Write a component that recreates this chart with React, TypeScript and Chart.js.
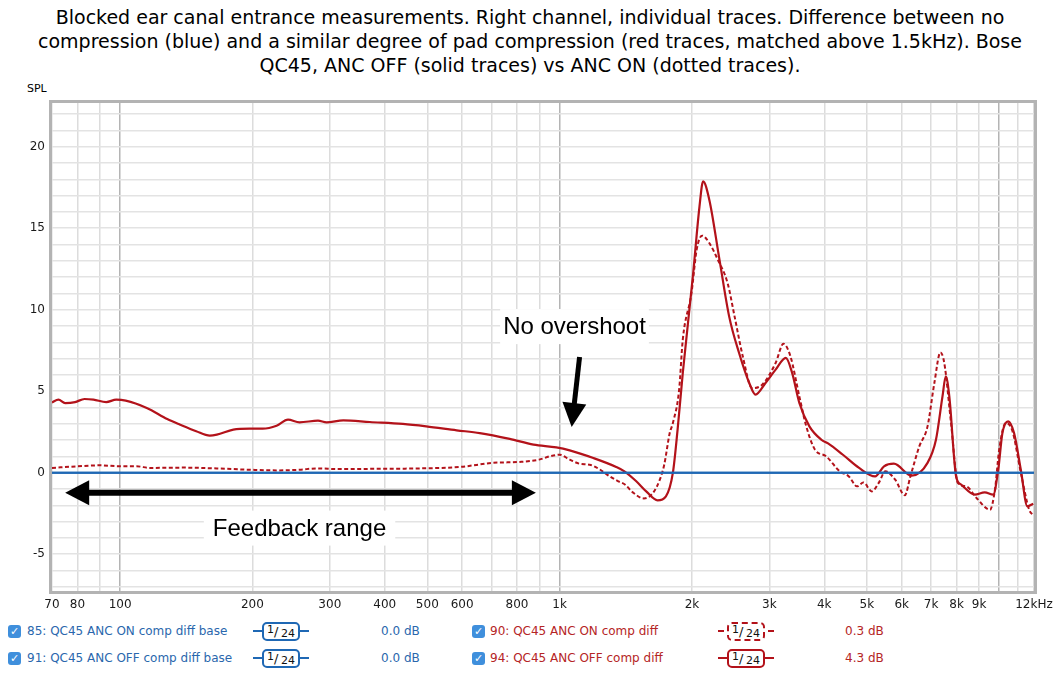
import React, { useEffect, useRef } from 'react';
import { Chart, registerables } from 'chart.js';

Chart.register(...registerables);

// ---------- data ----------
const TITLE_LINES = [
  'Blocked ear canal entrance measurements. Right channel, individual traces. Difference between no',
  'compression (blue) and a similar degree of pad compression (red traces, matched above 1.5kHz). Bose',
  'QC45, ANC OFF (solid traces) vs ANC ON (dotted traces).',
];

const BASE_FREQ = [70, 12000];
const BASE_DB = [0, 0];

const FREQ_OFF = [70, 72.4, 75, 79, 83, 87, 93, 98, 103, 115, 128, 137, 149, 160, 166, 181, 197, 211, 227, 241, 256, 282, 295, 322, 370, 440, 497, 583, 658, 770, 872, 983, 1054, 1193, 1345, 1404, 1494, 1574, 1670, 1745, 1810, 1855, 1906, 2013, 2080, 2120, 2190, 2310, 2430, 2560, 2700, 2790, 2940, 3100, 3270, 3380, 3510, 3700, 3940, 4080, 4410, 4800, 5220, 5470, 5760, 6320, 6870, 7180, 7430, 7560, 7700, 7980, 8200, 8800, 9270, 9690, 9950, 10170, 10480, 10810, 11200, 11590, 11950];
const DB_OFF = [4.31, 4.48, 4.27, 4.33, 4.52, 4.48, 4.33, 4.48, 4.42, 3.97, 3.29, 2.94, 2.54, 2.27, 2.33, 2.64, 2.7, 2.7, 2.88, 3.25, 3.09, 3.19, 3.09, 3.21, 3.11, 2.99, 2.84, 2.6, 2.43, 2.07, 1.72, 1.55, 1.37, 0.9, 0.35, 0.08, -0.53, -1.15, -1.7, -1.45, 0.0, 2.64, 6.1, 12.25, 16.3, 17.87, 16.75, 13.07, 9.59, 7.34, 5.5, 4.79, 5.5, 6.32, 7.04, 6.12, 4.28, 2.84, 2.02, 1.8, 1.1, 0.29, -0.23, 0.39, 0.55, -0.18, 0.6, 2.02, 4.68, 5.91, 4.68, -0.23, -0.74, -1.35, -1.21, -1.35, 0.18, 2.43, 3.15, 2.43, 0.18, -2.07, -1.9];

const FREQ_ON = [70, 80, 90, 100, 109, 117, 139, 166, 197, 227, 256, 280, 316, 390, 480, 593, 705, 811, 898, 949, 1000, 1054, 1110, 1170, 1230, 1300, 1360, 1410, 1467, 1555, 1630, 1690, 1730, 1780, 1810, 1870, 1906, 1995, 2050, 2110, 2190, 2290, 2410, 2500, 2610, 2740, 2890, 3100, 3230, 3350, 3510, 3640, 3810, 4040, 4330, 4550, 4750, 4910, 5130, 5320, 5510, 5800, 6100, 6280, 6580, 6870, 7120, 7350, 7500, 7770, 8050, 8410, 8880, 9530, 9780, 10000, 10350, 10720, 11200, 11700, 11950];
const DB_ON = [0.29, 0.39, 0.45, 0.39, 0.39, 0.29, 0.31, 0.26, 0.18, 0.14, 0.18, 0.26, 0.22, 0.24, 0.26, 0.35, 0.6, 0.66, 0.8, 1.0, 1.1, 0.8, 0.55, 0.49, 0.22, -0.23, -0.53, -0.74, -1.21, -1.58, -1.25, -0.43, 0.5, 2.43, 3.05, 5.09, 8.16, 11.02, 13.68, 14.54, 14.09, 13.07, 11.64, 9.59, 7.14, 5.19, 5.4, 6.73, 7.91, 7.14, 4.68, 2.84, 1.41, 1.0, 0.1, -0.23, -0.84, -0.6, -1.15, -0.63, 0.08, -0.43, -1.39, -0.23, 1.61, 2.84, 5.5, 7.38, 6.73, 3.05, -0.63, -0.84, -1.55, -2.27, -1.04, 1.41, 3.05, 2.54, 0.0, -2.27, -2.6];

const X_MIN = 70;
const X_MAX = 12000;
const X_GRID = [70, 80, 90, 100, 200, 300, 400, 500, 600, 700, 800, 900, 1000, 2000, 3000, 4000, 5000, 6000, 7000, 8000, 9000, 10000, 11000, 12000];
const X_MAJOR = [100, 1000, 10000];
const X_LABEL_VALUES = [70, 80, 100, 200, 300, 400, 500, 600, 800, 1000, 2000, 3000, 4000, 5000, 6000, 7000, 8000, 9000, 12000];
const X_LABEL_TEXT = ['70', '80', '100', '200', '300', '400', '500', '600', '800', '1k', '2k', '3k', '4k', '5k', '6k', '7k', '8k', '9k', '12kHz'];

const Y_MIN = -7.26;
const Y_MAX = 22.68;
const Y_GRID = [-7, -6, -5, -4, -3, -2, -1, 0, 1, 2, 3, 4, 5, 6, 7, 8, 9, 10, 11, 12, 13, 14, 15, 16, 17, 18, 19, 20, 21, 22];
const Y_LABEL_VALUES = [-5, 0, 5, 10, 15, 20];
const Y_AXIS_TITLE = 'SPL';

const LEGEND_LABELS = ['85: QC45 ANC ON comp diff base', '91: QC45 ANC OFF comp diff base', '90: QC45 ANC ON comp diff', '94: QC45 ANC OFF comp diff'];
const LEGEND_OFFSETS = ['0.0 dB', '0.0 dB', '0.3 dB', '4.3 dB'];
const LEGEND_SMOOTHING = ['24', '24', '24', '24'];

// annotations in data coordinates (Hz, dB)
const FEEDBACK_ARROW_FREQ = [75, 883];
const FEEDBACK_ARROW_DB = -1.23;
const FEEDBACK_LABEL = 'Feedback range';
const FEEDBACK_LABEL_AT = [256, -3.4];
const OVERSHOOT_LABEL = 'No overshoot';
const OVERSHOOT_LABEL_AT = [1081, 8.96];
const OVERSHOOT_ARROW_FROM = [1110, 7.1];
const OVERSHOOT_ARROW_TO = [1065, 2.8];

// ---------- styles ----------
const BLUE = '#1f68b4';
const RED = '#b3121a';
const BLUE_TEXT = '#2a67ad';
const RED_TEXT = '#b52525';
const UI_FONT = '"DejaVu Sans", Verdana, sans-serif';
const ANNOT_FONT = '"Liberation Sans", Arial, sans-serif';

const toPoints = (xs: number[], ys: number[]) => xs.map((x, i) => ({ x, y: ys[i] }));

function drawHead(ctx: CanvasRenderingContext2D, tipX: number, tipY: number, ang: number, len: number, half: number) {
  const bx = tipX - Math.cos(ang) * len;
  const by = tipY - Math.sin(ang) * len;
  const px = -Math.sin(ang) * half;
  const py = Math.cos(ang) * half;
  ctx.beginPath();
  ctx.moveTo(tipX, tipY);
  ctx.lineTo(bx + px, by + py);
  ctx.lineTo(bx - px, by - py);
  ctx.closePath();
  ctx.fill();
}

function drawArrow(ctx: CanvasRenderingContext2D, x1: number, y1: number, x2: number, y2: number, both: boolean, len: number, half: number, shaft: number) {
  const ang = Math.atan2(y2 - y1, x2 - x1);
  const sx = both ? x1 + Math.cos(ang) * (len - 2) : x1;
  const sy = both ? y1 + Math.sin(ang) * (len - 2) : y1;
  const ex = x2 - Math.cos(ang) * (len - 2);
  const ey = y2 - Math.sin(ang) * (len - 2);
  ctx.save();
  ctx.strokeStyle = '#000';
  ctx.fillStyle = '#000';
  ctx.lineWidth = shaft;
  ctx.lineCap = 'butt';
  ctx.beginPath();
  ctx.moveTo(sx, sy);
  ctx.lineTo(ex, ey);
  ctx.stroke();
  drawHead(ctx, x2, y2, ang, len, half);
  if (both) drawHead(ctx, x1, y1, ang + Math.PI, len, half);
  ctx.restore();
}

function drawLabel(ctx: CanvasRenderingContext2D, text: string, cx: number, cy: number, padX: number, h: number) {
  ctx.save();
  ctx.font = `24px ${ANNOT_FONT}`;
  const w = ctx.measureText(text).width;
  ctx.fillStyle = '#fff';
  ctx.fillRect(cx - w / 2 - padX, cy - h / 2, w + padX * 2, h);
  ctx.fillStyle = '#000';
  ctx.textAlign = 'center';
  ctx.textBaseline = 'middle';
  ctx.fillText(text, cx, cy + 1);
  ctx.restore();
}

const annotationPlugin = {
  id: 'annotations',
  afterDatasetsDraw(chart: any) {
    const { ctx, scales, chartArea } = chart;
    const xs = scales.x;
    const ys = scales.y;
    // frame
    ctx.save();
    ctx.strokeStyle = '#b3b3b3';
    ctx.lineWidth = 3;
    ctx.strokeRect(chartArea.left - 1.5, chartArea.top - 1.5, chartArea.right - chartArea.left + 3, chartArea.bottom - chartArea.top + 3);
    ctx.restore();

    const ay = ys.getPixelForValue(FEEDBACK_ARROW_DB);
    drawArrow(ctx, xs.getPixelForValue(FEEDBACK_ARROW_FREQ[0]), ay, xs.getPixelForValue(FEEDBACK_ARROW_FREQ[1]), ay, true, 24, 12.5, 6);
    drawLabel(ctx, FEEDBACK_LABEL, xs.getPixelForValue(FEEDBACK_LABEL_AT[0]), ys.getPixelForValue(FEEDBACK_LABEL_AT[1]), 9, 35);
    drawLabel(ctx, OVERSHOOT_LABEL, xs.getPixelForValue(OVERSHOOT_LABEL_AT[0]), ys.getPixelForValue(OVERSHOOT_LABEL_AT[1]), 3, 35);
    drawArrow(
      ctx,
      xs.getPixelForValue(OVERSHOOT_ARROW_FROM[0]), ys.getPixelForValue(OVERSHOOT_ARROW_FROM[1]),
      xs.getPixelForValue(OVERSHOOT_ARROW_TO[0]), ys.getPixelForValue(OVERSHOOT_ARROW_TO[1]),
      false, 24, 12, 5,
    );
  },
};

function CheckBox() {
  return (
    <span style={{
      position: 'absolute', left: 0, top: 0, width: 13, height: 13, borderRadius: 3,
      background: '#3f8fdc', color: '#fff', fontSize: 11, lineHeight: '13px', textAlign: 'center',
      fontFamily: UI_FONT, fontWeight: 'bold',
    }}>✓</span>
  );
}

function SmoothBox({ color, dashed, denom }: { color: string; dashed: boolean; denom: string }) {
  const style = dashed ? 'dashed' : 'solid';
  return (
    <div style={{ position: 'absolute', left: 0, top: 0, width: 56, height: 19 }}>
      <div style={{ position: 'absolute', left: 0, right: 0, top: 8, height: 0, borderTop: `2px ${style} ${color}` }} />
      <div style={{
        position: 'absolute', left: 9, top: 0, width: 34, height: 15, border: `2px ${style} ${color}`,
        borderRadius: 5, background: '#fff', fontFamily: UI_FONT, color: '#111', fontSize: 11,
      }}>
        <span style={{ position: 'absolute', left: 3, top: -1 }}>1</span>
        <span style={{ position: 'absolute', left: 10, top: 0, fontSize: 13 }}>/</span>
        <span style={{ position: 'absolute', left: 17, top: 3 }}>{denom}</span>
      </div>
    </div>
  );
}

function Legend() {
  const cols = [
    { check: 8, text: 27, box: 253, offset: 381 },
    { check: 472, text: 490, box: 718, offset: 845 },
  ];
  const rows = [624, 651];
  const items = LEGEND_LABELS.map((label, i) => {
    const col = cols[i < 2 ? 0 : 1];
    const row = rows[i % 2];
    const isRed = i >= 2;
    const textColor = isRed ? RED_TEXT : BLUE_TEXT;
    const lineColor = isRed ? RED : BLUE;
    const dashed = i === 2;
    return (
      <React.Fragment key={label}>
        <div style={{ position: 'absolute', left: col.check, top: row + 1 }}><CheckBox /></div>
        <div style={{ position: 'absolute', left: col.text, top: row, fontFamily: UI_FONT, fontSize: 12, color: textColor, whiteSpace: 'nowrap', lineHeight: '15px' }}>{label}</div>
        <div style={{ position: 'absolute', left: col.box, top: row - 2 }}><SmoothBox color={lineColor} dashed={dashed} denom={LEGEND_SMOOTHING[i]} /></div>
        <div style={{ position: 'absolute', left: col.offset, top: row, fontFamily: UI_FONT, fontSize: 12, color: textColor, whiteSpace: 'nowrap', lineHeight: '15px' }}>{LEGEND_OFFSETS[i]}</div>
      </React.Fragment>
    );
  });
  return <>{items}</>;
}

export default function App() {
  const canvasRef = useRef<HTMLCanvasElement | null>(null);

  useEffect(() => {
    if (!canvasRef.current) return;
    const chart = new Chart(canvasRef.current, {
      type: 'line',
      data: {
        datasets: [
          { label: LEGEND_LABELS[0], data: toPoints(BASE_FREQ, BASE_DB), borderColor: BLUE, borderWidth: 2, pointRadius: 0 },
          { label: LEGEND_LABELS[1], data: toPoints(BASE_FREQ, BASE_DB), borderColor: BLUE, borderWidth: 2, pointRadius: 0 },
          { label: LEGEND_LABELS[2], data: toPoints(FREQ_ON, DB_ON), borderColor: RED, borderWidth: 2, borderDash: [4, 2.5], pointRadius: 0, cubicInterpolationMode: 'monotone' },
          { label: LEGEND_LABELS[3], data: toPoints(FREQ_OFF, DB_OFF), borderColor: RED, borderWidth: 2.2, pointRadius: 0, cubicInterpolationMode: 'monotone' },
        ],
      },
      options: {
        animation: false,
        responsive: false,
        maintainAspectRatio: false,
        devicePixelRatio: 1,
        events: [],
        layout: { padding: { left: 0, top: 103, right: 26, bottom: 5 } },
        plugins: { legend: { display: false }, tooltip: { enabled: false }, title: { display: false } },
        scales: {
          x: {
            type: 'logarithmic',
            min: X_MIN,
            max: X_MAX,
            afterBuildTicks: (scale: any) => { scale.ticks = X_GRID.map((v) => ({ value: v })); },
            afterFit: (scale: any) => { scale.height = 24; },
            ticks: {
              autoSkip: false,
              maxRotation: 0,
              minRotation: 0,
              padding: 7,
              color: '#1a1a1a',
              font: { family: UI_FONT, size: 12 },
              callback: (value: any) => {
                const idx = X_LABEL_VALUES.indexOf(Number(value));
                return idx >= 0 ? X_LABEL_TEXT[idx] : '';
              },
            },
            grid: {
              drawTicks: false,
              color: (c: any) => (c.tick && X_MAJOR.includes(c.tick.value) ? '#b4b4b4' : '#dcdcdc'),
              lineWidth: 1.5,
            },
            border: { display: false },
          },
          y: {
            type: 'linear',
            min: Y_MIN,
            max: Y_MAX,
            afterBuildTicks: (scale: any) => { scale.ticks = Y_GRID.map((v) => ({ value: v })); },
            afterFit: (scale: any) => { scale.width = 52; },
            ticks: {
              autoSkip: false,
              padding: 7,
              color: '#1a1a1a',
              font: { family: UI_FONT, size: 12 },
              callback: (value: any) => (Y_LABEL_VALUES.includes(Number(value)) ? String(value) : ''),
            },
            grid: { drawTicks: false, color: '#e3e3e3', lineWidth: 1.5 },
            border: { display: false },
          },
        },
      },
      plugins: [annotationPlugin],
    } as any);
    return () => chart.destroy();
  }, []);

  return (
    <div style={{ position: 'absolute', left: 0, top: 0, width: 1060, height: 674, background: '#fff', overflow: 'hidden' }}>
      <div style={{
        position: 'absolute', left: 0, top: 5, width: 1060, textAlign: 'center', fontFamily: UI_FONT,
        fontSize: 19, lineHeight: '24px', color: '#000',
      }}>
        {TITLE_LINES.map((l) => <div key={l} style={{ whiteSpace: 'nowrap' }}>{l}</div>)}
      </div>
      <div style={{ position: 'absolute', left: 27, top: 82, fontFamily: UI_FONT, fontSize: 11, color: '#000' }}>{Y_AXIS_TITLE}</div>
      <canvas ref={canvasRef} width={1060} height={620} style={{ position: 'absolute', left: 0, top: 0, width: 1060, height: 620 }} />
      <Legend />
    </div>
  );
}
